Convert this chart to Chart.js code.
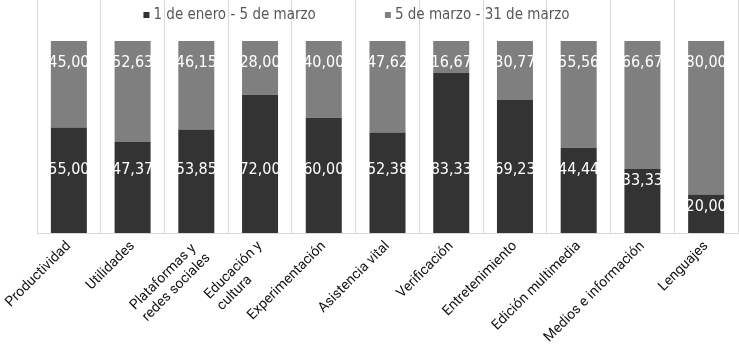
<!DOCTYPE html>
<html lang="es">
<head>
<meta charset="utf-8">
<title>Periodos por categoría</title>
<script src="https://cdn.jsdelivr.net/npm/chart.js@4"></script>
<style>
  html, body { margin: 0; padding: 0; background: #ffffff; }
  #wrap { width: 739px; height: 350px; position: relative; }
</style>
</head>
<body>
<div id="wrap"><canvas id="chart"></canvas></div>
<script>
// Categories (multi-line ones as arrays)
const categories = [
  'Productividad',
  'Utilidades',
  ['Plataformas y', 'redes sociales'],
  ['Educación y', 'cultura'],
  'Experimentación',
  'Asistencia vital',
  'Verificación',
  'Entretenimiento',
  'Edición multimedia',
  'Medios e información',
  'Lenguajes'
];

const seriesNames = ['1 de enero - 5 de marzo', '5 de marzo - 31 de marzo'];

// Percentage shares per period
const eneroMarzo = [55.00, 47.37, 53.85, 72.00, 60.00, 52.38, 83.33, 69.23, 44.44, 33.33, 20.00];
const marzoFinal = [45.00, 52.63, 46.15, 28.00, 40.00, 47.62, 16.67, 30.77, 55.56, 66.67, 80.00];

const seriesColors = ['#333333', '#7f7f7f'];
const labelFont = "'Liberation Sans Narrow', 'DejaVu Sans Condensed', sans-serif";
const tickFamily = 'Roboto, sans-serif';
const tickSize = 14;

function fmt(v) {
  return v.toFixed(2).replace('.', ',');
}

// Rotated tick labels are right-aligned by Chart.js; pad the shorter lines
// so that multi-line labels read as left-aligned.
const measureCtx = document.createElement('canvas').getContext('2d');
function leftAlignLines(label) {
  if (!Array.isArray(label)) return label;
  measureCtx.font = tickSize + 'px ' + tickFamily;
  const w = label.map(s => measureCtx.measureText(s).width);
  const max = Math.max(...w);
  const sp = measureCtx.measureText(' ').width;
  return label.map((s, i) => s + ' '.repeat(Math.round((max - w[i]) / sp)));
}

// Value labels: a common row per series, pushed down inside short segments
const valueLabels = {
  id: 'valueLabels',
  afterDatasetsDraw(chart) {
    const ctx = chart.ctx;
    const y = chart.scales.y;
    const rows = [32.8, 88.5];
    ctx.save();
    ctx.fillStyle = '#ffffff';
    ctx.font = '16px ' + labelFont;
    ctx.textAlign = 'center';
    ctx.textBaseline = 'middle';
    chart.data.datasets.forEach((ds, i) => {
      const meta = chart.getDatasetMeta(i);
      meta.data.forEach((bar, j) => {
        const py = Math.max(y.getPixelForValue(rows[i]), bar.y + 12);
        ctx.fillText(fmt(ds.data[j]), bar.x, py);
      });
    });
    ctx.restore();
  }
};

// Legend row drawn across the top of the plot
const topLegend = {
  id: 'topLegend',
  afterDraw(chart) {
    const ctx = chart.ctx;
    ctx.save();
    ctx.font = '15px ' + labelFont;
    ctx.textBaseline = 'middle';
    const box = 6, boxGap = 4, itemGap = 69;
    const widths = chart.data.datasets.map(ds => box + boxGap + ctx.measureText(ds.label).width);
    const total = widths.reduce((a, b) => a + b, 0) + itemGap * (widths.length - 1);
    let x = chart.width / 2 - 13 - total / 2;
    const cy = 15;
    chart.data.datasets.forEach((ds, i) => {
      ctx.fillStyle = ds.backgroundColor;
      ctx.fillRect(x, cy - box / 2, box, box);
      ctx.fillStyle = '#595959';
      ctx.fillText(ds.label, x + box + boxGap, cy);
      x += widths[i] + itemGap;
    });
    ctx.restore();
  }
};

new Chart(document.getElementById('chart'), {
  type: 'bar',
  data: {
    labels: categories,
    datasets: [
      { label: seriesNames[0], data: eneroMarzo, backgroundColor: seriesColors[0] },
      { label: seriesNames[1], data: marzoFinal, backgroundColor: seriesColors[1] }
    ]
  },
  options: {
    responsive: true,
    maintainAspectRatio: false,
    animation: false,
    layout: { padding: { top: 0, right: 0, bottom: 2, left: 0 } },
    datasets: { bar: { categoryPercentage: 1, barPercentage: 0.565 } },
    plugins: {
      legend: { display: false },
      tooltip: { enabled: false }
    },
    scales: {
      x: {
        stacked: true,
        grid: { display: true, offset: true, color: '#d9d9d9', drawTicks: false },
        border: { display: true, color: '#d9d9d9' },
        ticks: {
          color: '#111111',
          font: { family: tickFamily, size: tickSize },
          minRotation: 45,
          maxRotation: 45,
          autoSkip: false,
          padding: 5,
          callback: (value, index) => leftAlignLines(categories[index])
        },
        afterFit(scale) {
          // rotated labels need less room than the bounding estimate
          scale.height = 115;
          scale.paddingLeft = 37;
          scale.paddingRight = 1;
        }
      },
      y: {
        stacked: true,
        display: false,
        min: 0,
        max: 121.35
      }
    }
  },
  plugins: [valueLabels, topLegend]
});
</script>
</body>
</html>
